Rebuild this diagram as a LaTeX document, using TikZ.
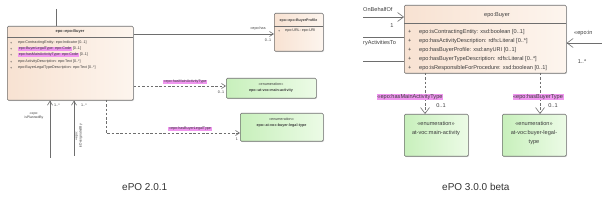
\documentclass[tikz,border=0pt]{standalone}
\usepackage{fontspec}
\setmainfont{Liberation Sans}
\usetikzlibrary{arrows.meta,shadows,calc}
\definecolor{peach}{RGB}{248,226,210}
\definecolor{peachlight}{RGB}{253,245,238}
\definecolor{greenl}{RGB}{200,240,188}
\definecolor{greenr}{RGB}{236,251,230}
\definecolor{hil}{RGB}{240,150,240}
\definecolor{linec}{RGB}{110,110,110}
\definecolor{txt}{RGB}{60,60,60}
\begin{document}
\begin{tikzpicture}[x=1pt,y=-1pt,
  umlbox/.style={draw=linec, line width=0.6pt, rounded corners=1.2pt, left color=peach, right color=peachlight,
     drop shadow={opacity=0.2, shadow xshift=0.8pt, shadow yshift=-0.8pt}, inner sep=0pt, anchor=north west},
  enumbox/.style={draw=linec, line width=0.6pt, rounded corners=1.2pt, left color=greenl, right color=greenr,
     drop shadow={opacity=0.2, shadow xshift=0.8pt, shadow yshift=-0.8pt}, inner sep=0pt, anchor=north west},
  sep/.style={draw=linec, line width=0.4pt},
  lt/.style={font=\fontsize{3.7}{4.2}\selectfont, text=txt, inner sep=0pt, anchor=west},
  ltc/.style={font=\fontsize{3.7}{4.4}\selectfont, text=txt, inner sep=0pt, align=center},
  rt/.style={font=\fontsize{5.6}{6.6}\selectfont, text=txt, inner sep=0pt, anchor=west},
  rtc/.style={font=\fontsize{5.6}{8.5}\selectfont, text=txt, inner sep=0pt, align=center},
  hl/.style={fill=hil, inner xsep=0.6pt, inner ysep=0.4pt},
  conn/.style={draw=linec, line width=0.6pt},
  dep/.style={draw=linec, line width=0.6pt, dashed, dash pattern=on 2.5pt off 1.8pt},
  tipl/.style={-{Straight Barb[length=4pt,width=5pt]}},
  tipr/.style={-{Straight Barb[length=6pt,width=9pt]}},
  captext/.style={font=\fontsize{10}{12}\selectfont, text=black!80, inner sep=0pt}
]
\useasboundingbox (0,0) rectangle (602,200);

% ================= LEFT: ePO 2.0.1 =================
\node[umlbox, minimum width=126pt, minimum height=74pt] (lbuyer) at (7,26) {};
\draw[sep] (7,37) -- (133,37);
\node[ltc, font=\fontsize{3.9}{4.4}\selectfont\bfseries] (lbt) at (70,32) {epo::epo:Buyer};
\foreach \yy in {43,49,55,62,68} \node[lt] at (10,\yy) {+};
\node[lt] (la1) at (18,43) {epo:ContractingEntity: epo:Indicator [0..1]};
\node[lt,hl] (la2) at (18,49) {epo:BuyerLegalType: epo:Code};
\node[lt] at (la2.east) {\,[0..1]};
\node[lt,hl] (la3) at (18,55) {epo:hasMainActivityType: epo:Code};
\node[lt] at (la3.east) {\,[0..1]};
\node[lt] (la4) at (18,62) {epo:ActivityDescription: epo:Text [0..*]};
\node[lt] (la5) at (18,68) {epo:BuyerLegalTypeDescription: epo:Text [0..*]};

% BuyerProfile
\node[umlbox, minimum width=49pt, minimum height=38pt] (lprof) at (274,13) {};
\draw[sep] (274,26) -- (323,26);
\node[ltc, font=\fontsize{3.6}{4.2}\selectfont\bfseries] at (298.5,20.5) {epo::epo:BuyerProfile};
\node[lt] at (278,31) {+};
\node[lt] at (285,31) {epo:URL: epo:URI};

% enumerations
\node[enumbox, minimum width=90pt, minimum height=20pt] (lmain) at (226,78) {};
\node[ltc] at (271,84) {«enumeration»};
\node[ltc, font=\fontsize{3.7}{4.4}\selectfont\bfseries] at (271,91) {epo::at-voc:main-activity};
\node[enumbox, minimum width=83pt, minimum height=28pt] (llegal) at (240,113) {};
\node[ltc] at (281.5,119) {«enumeration»};
\node[ltc, font=\fontsize{3.7}{4.4}\selectfont\bfseries] at (281.5,126) {epo::at-voc:buyer-legal-type};

% connectors
\coordinate (ltop) at (56,9);
\draw[conn] (ltop) -- (ltop |- lbuyer.north);
\draw[conn, tipl] (lbuyer.east |- 0,34) -- (lprof.west |- 0,34);
\node[ltc] at (258,29) {«epo:has};
\node[ltc] at (268,40) {0..1};

\draw[dep, tipl] (lbuyer.east |- 0,86) -- (lmain.west |- 0,86);
\node[ltc,hl] at (185,82) {«epo:hasMainActivityType};
\node[ltc] at (221,92) {0..1};

\coordinate (lbl) at (106,100);
\draw[dep, tipl] (lbl) |- (llegal.west |- 0,133);
\node[ltc,hl] at (190,129) {«epo:hasBuyerLegalType};
\node[ltc] at (237,139) {1};

\coordinate (lu1) at (50,158);
\coordinate (lu2) at (74,156);
\draw[conn, tipl] (lu1) -- (lu1 |- lbuyer.south);
\draw[conn, tipl] (lu2) -- (lu2 |- lbuyer.south);
\node[ltc] at (57,105) {1..*};
\node[ltc] at (84,105) {1..*};
\node[ltc, font=\fontsize{3.4}{4.2}\selectfont] at (34,116) {«epo:\\isPlannedBy};
\node[ltc, font=\fontsize{3.4}{4.2}\selectfont, rotate=90] at (79,136) {«epo:\\isDesignatedBy};

\node[captext, anchor=west] at (122,187) {ePO 2.0.1};

% ================= RIGHT: ePO 3.0.0 beta =================
\node[umlbox, minimum width=162pt, minimum height=68pt] (rbuyer) at (404,5) {};
\draw[sep] (404,23) -- (566,23);
\node[rtc] at (497,15) {epo:Buyer};
\foreach \yy in {32,41,50,59,68} \node[rt] at (408,\yy) {+};
\node[rt] at (419,32) {epo:isContractingEntity: xsd:boolean [0..1]};
\node[rt] at (419,41) {epo:hasActivityDescription: rdfs:Literal [0..*]};
\node[rt] at (419,50) {epo:hasBuyerProfile: xsd:anyURI [0..1]};
\node[rt] at (419,59) {epo:hasBuyerTypeDescription: rdfs:Literal [0..*]};
\node[rt] at (419,68) {epo:isResponsibleForProcedure: xsd:boolean [0..1]};

\node[enumbox, minimum width=64pt, minimum height=42pt] (rmain) at (404,114) {};
\node[rtc] at (436,123) {«enumeration»};
\node[rtc] at (436,133) {at-voc:main-activity};
\node[enumbox, minimum width=64pt, minimum height=42pt] (rlegal) at (502,114) {};
\node[rtc] at (534,123) {«enumeration»};
\node[rtc] at (534,137.5) {at-voc:buyer-legal-\\type};

% incoming lines from the left
\coordinate (ri1) at (363,17);
\coordinate (ri2) at (363,37);
\coordinate (ri3) at (363,61);
\draw[conn, tipr] (ri1) -- (ri1 -| rbuyer.west);
\draw[conn] (ri2) -- (ri2 -| rbuyer.west);
\draw[conn] (ri3) -- (ri3 -| rbuyer.west);
\node[rt] at (363,10) {OnBehalfOf};
\node[rt] at (363,43) {ryActivitiesTo};
\node[rtc] at (392,26) {1};

% incoming from the right
\coordinate (rr) at (602,43);
\draw[conn, tipr] (rr) -- (rr -| rbuyer.east);
\node[rt] at (574,33) {«epo:in};
\node[rtc] at (582,62) {1..*};

% dependencies down
\coordinate (rd1) at (425,73);
\coordinate (rd2) at (540,73);
\draw[dep, tipr] (rd1) -- (rd1 |- rmain.north);
\draw[dep, tipr] (rd2) -- (rd2 |- rlegal.north);
\node[rtc,hl] at (410,97) {«epo:hasMainActivityType};
\node[rtc] at (441,106) {0..1};
\node[rtc,hl] at (538,97) {«epo:hasBuyerType};
\node[rtc] at (553,106) {0..1};

\node[captext, anchor=west] at (442,187) {ePO 3.0.0 beta};
\end{tikzpicture}
\end{document}
